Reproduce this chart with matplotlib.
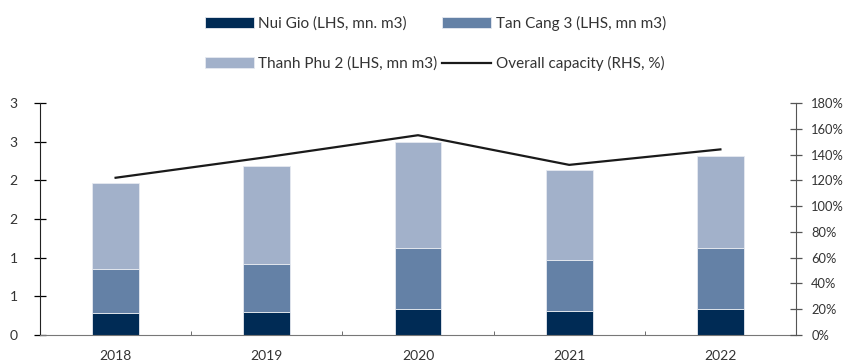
import matplotlib
matplotlib.use("Agg")
import matplotlib.pyplot as plt
import numpy as np

plt.rcParams["font.family"] = ["Lato", "DejaVu Sans"]

years = ["2018", "2019", "2020", "2021", "2022"]
nui_gio = [0.28, 0.30, 0.33, 0.31, 0.34]
tan_cang = [0.57, 0.62, 0.80, 0.66, 0.79]
thanh_phu = [1.11, 1.27, 1.36, 1.16, 1.19]
capacity = [122, 138, 155, 132, 144]
left_ticks = [0, 0.5, 1, 1.5, 2, 2.5, 3]
left_labels = ["0", "1", "1", "2", "2", "3", "3"]
right_ticks = list(range(0, 181, 20))

c1, c2, c3 = "#002B55", "#6481A6", "#A2B1CA"
tc = "#333333"

fig = plt.figure(figsize=(8.46, 3.62), dpi=100)
ax = fig.add_axes([40/846, 1-335/362, (796-40)/846, (335-103)/362])
x = np.arange(len(years))
w = 0.31
b1 = ax.bar(x, nui_gio, w, color=c1, edgecolor="#E6EAF0", linewidth=0.6, label="Nui Gio (LHS, mn. m3)")
b2 = ax.bar(x, tan_cang, w, bottom=nui_gio, color=c2, edgecolor="#E6EAF0", linewidth=0.6, label="Tan Cang 3 (LHS, mn m3)")
bot = np.array(nui_gio) + np.array(tan_cang)
b3 = ax.bar(x, thanh_phu, w, bottom=bot, color=c3, edgecolor="#E6EAF0", linewidth=0.6, label="Thanh Phu 2 (LHS, mn m3)")
ax.set_xlim(-0.5, len(years) - 0.5)
ax.set_ylim(0, 3)
ax.set_yticks(left_ticks)
ax.set_yticklabels(left_labels)
ax.set_xticks(x)
ax.set_xticklabels(years)
ax.set_xticks(np.arange(0.5, len(years) - 1, 1), minor=True)
ax.tick_params(axis="x", which="major", length=0, pad=11, labelsize=10, labelcolor=tc)
ax.tick_params(axis="x", which="minor", direction="in", length=3, color="#555555")
ax.tick_params(axis="y", direction="inout", length=8, width=0.9, labelsize=10, labelcolor=tc, pad=12)
for s in ["top", "right"]:
    ax.spines[s].set_visible(False)
ax.spines["left"].set_color("#222222")
ax.spines["bottom"].set_color("#777777")

ax2 = ax.twinx()
l, = ax2.plot(x, capacity, color="#1a1a1a", linewidth=1.6, label="Overall capacity (RHS, %)")
ax2.set_ylim(0, 180)
ax2.set_yticks(right_ticks)
ax2.set_yticklabels([f"{v}%" for v in right_ticks])
ax2.tick_params(axis="y", direction="inout", length=8, width=0.9, labelsize=9.3, labelcolor=tc, pad=7, color="#555555")
for s in ["top", "left", "bottom"]:
    ax2.spines[s].set_visible(False)
ax2.spines["right"].set_color("#555555")

handles = [b1, b3, b2, l]
labels = [h.get_label() for h in handles]
fig.legend(handles, labels, ncol=2, loc="upper left", bbox_to_anchor=(205/846, 1 - 16/362),
           frameon=False, fontsize=11, handlelength=3.2, handleheight=0.78,
           labelspacing=1.65, columnspacing=0.3, handletextpad=0.3, labelcolor=tc,
           borderpad=0, borderaxespad=0)
fig.savefig("out.png", dpi=100)
